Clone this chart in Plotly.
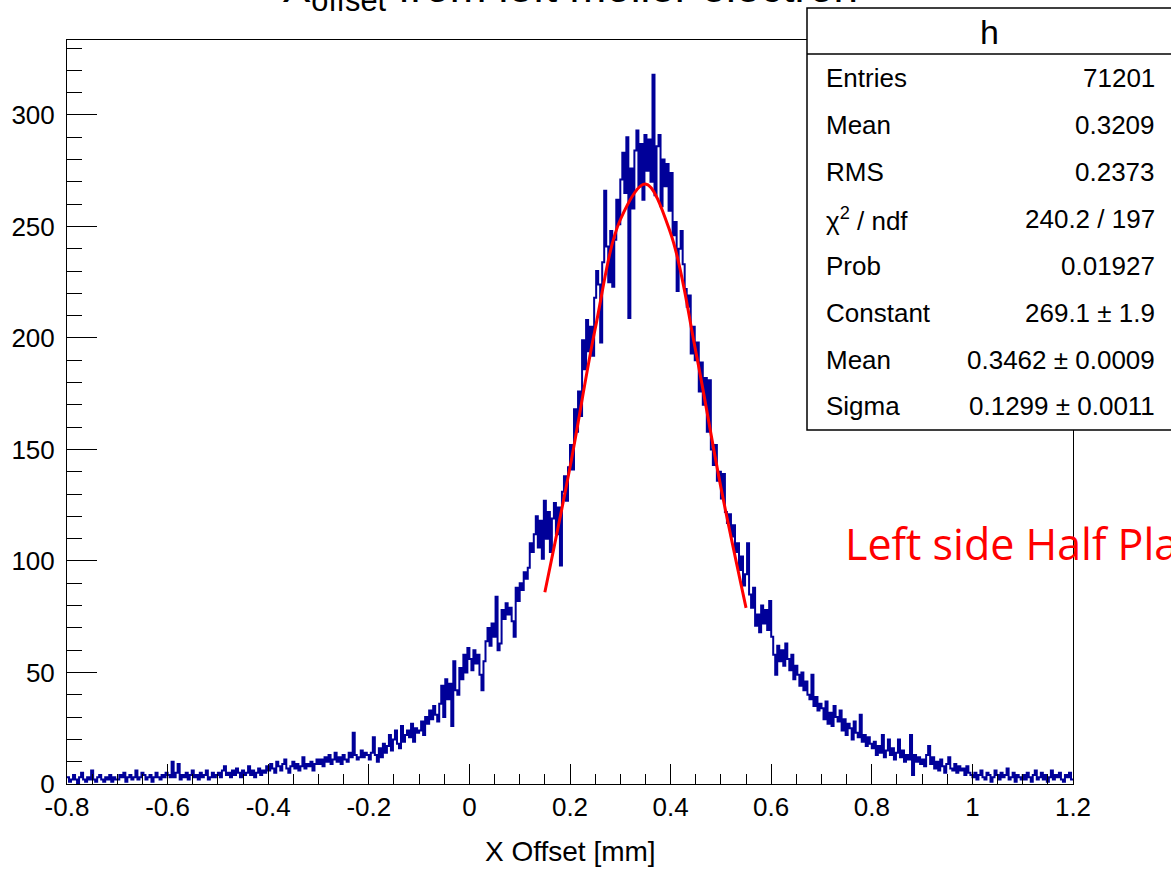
import numpy as np
import plotly.graph_objects as go

# ---------------- data ----------------
XMIN, XMAX, NBINS = -0.8, 1.2, 500

left_tail = [  # -0.8 .. -0.2
    3,1,2,4,2, 0,3,5,2,1, 3,2,6,2,1, 3,4,2,1,3, 2,4,1,3,2,
    2,4,3,5,1, 3,4,2,3,6, 2,3,5,4,2, 3,4,1,3,5, 3,2,4,3,5,
    4,3,10,3,5, 9,2,4,3,5, 2,4,6,3,4, 2,5,3,4,6, 2,3,5,3,4,
    5,3,6,8,4, 5,3,6,4,7, 5,3,6,4,5, 8,4,6,3,5, 7,4,6,5,8,
    6,9,7,5,10, 8,6,9,11,7, 5,8,10,7,9, 6,8,12,7,9, 8,10,6,9,11,
    9,11,8,12,10, 13,9,11,14,10, 12,9,13,11,10, 14,12,23,13,11, 12,15,12,14,13,
]
rise = [  # -0.2 .. 0.2
    11,14,21,13,10, 16,12,18,14,17, 22,15,20,24,18, 16,26,19,22,24, 21,27,19,25,23,
    24,28,22,30,27, 33,29,35,31,28, 36,44,30,47,38, 45,26,55,42,40, 52,47,58,50,61,
    56,51,60,54,58, 49,42,55,64,70, 62,72,66,84,60, 63,78,74,81,76, 79,73,66,88,82,
    90,87,95,92,97, 108,104,112,120,106, 118,101,127,110,122, 104,119,126,112,124, 98,131,138,127,142,
]
peak = [  # 0.2 .. 0.5
    152,141,168,158,176, 165,199,186,208,194, 205,192,218,230,224, 198,234,266,241,225, 248,223,244,262,251,
    271,283,265,290,209, 276,258,284,293,268, 287,262,291,275,289, 270,318,264,286,291, 259,280,268,278,257,
    274,246,252,221,240, 248,233,222,214,219, 193,205,190,198,176, 189,170,182,158,181, 150,143,152,136,140,
]
fall = [  # 0.5 .. 0.8
    128,139,122,117,121, 111,116,104,108,96, 102,89,94,108,85, 79,88,71,76,68, 80,72,78,69,82,
    66,58,49,62,55, 60,53,63,56,51, 58,47,53,49,44, 50,42,46,40,38, 49,35,39,33,36,
    34,29,37,27,32, 26,35,30,28,33, 24,29,22,27,25, 20,28,23,21,31, 19,22,17,21,18,
]
right_tail = [  # 0.8 .. 1.2
    16,19,13,17,14, 22,12,15,20,13, 16,11,14,20,12, 15,10,13,11,22, 4,13,10,12,9,
    11,8,13,17,9, 12,7,10,6,11, 8,5,9,12,7, 6,9,5,8,6, 7,4,8,5,4,
    3,5,2,4,6, 3,2,5,4,1, 3,6,4,2,5, 3,4,7,2,3, 5,1,4,3,2,
    4,2,5,3,1, 4,6,2,3,5, 2,4,1,3,6, 2,4,3,5,2, 1,4,3,5,2,
]

# fit curve points
fit_x = [0.15, 0.20, 0.25, 0.30, 0.35, 0.40, 0.45, 0.50, 0.55]
fit_y = [86, 142, 204, 253, 269, 247, 194, 133, 79]

x_tickvals = [-0.8, -0.6, -0.4, -0.2, 0, 0.2, 0.4, 0.6, 0.8, 1.0, 1.2]
x_ticktext = ["-0.8", "-0.6", "-0.4", "-0.2", "0", "0.2", "0.4", "0.6", "0.8", "1", "1.2"]
y_tickvals = [0, 50, 100, 150, 200, 250, 300]
y_ticktext = ["0", "50", "100", "150", "200", "250", "300"]

stats_title = "h"
stats_labels = ["Entries", "Mean", "RMS", "χ<sup>2</sup> / ndf", "Prob", "Constant", "Mean", "Sigma"]
stats_values = ["71201", "0.3209", "0.2373", "240.2 / 197", "0.01927",
                "269.1 ± 1.9", "0.3462 ± 0.0009", "0.1299 ± 0.0011"]

title_text = "X<sub>offset</sub> from left moller electron"
xaxis_title = "X Offset [mm]"
note_text = "Left side Half Plane"

# ---------------- figure ----------------
counts = left_tail + rise + peak + fall + right_tail
edges = np.linspace(XMIN, XMAX, NBINS + 1)
hist_y = counts + [counts[-1]]

W, H = 1171, 870
L, R, T, B = 67, 98, 40, 86
PW, PH = W - L - R, H - T - B

def px(xp):
    return (xp - L) / PW

def py(yp):
    return (H - B - yp) / PH

FONT = "Liberation Sans, Arial, Helvetica, sans-serif"

fig = go.Figure()
fig.add_trace(go.Scatter(x=edges, y=hist_y, mode="lines", line_shape="hv",
                         line=dict(color="#000099", width=2), hoverinfo="skip",
                         showlegend=False))
fig.add_trace(go.Scatter(x=fit_x, y=fit_y, mode="lines", line_shape="spline",
                         line=dict(color="#ff0000", width=3), hoverinfo="skip",
                         showlegend=False))

fig.update_layout(
    width=W, height=H, autosize=False,
    margin=dict(l=L, r=R, t=T, b=B, pad=0),
    paper_bgcolor="white", plot_bgcolor="white",
    font=dict(family=FONT, color="black"),
    showlegend=False,
)
fig.update_xaxes(
    range=[XMIN, XMAX], showgrid=False, zeroline=False,
    showline=True, mirror=True, linecolor="black", linewidth=1,
    tickmode="array", tickvals=x_tickvals, ticktext=x_ticktext,
    ticks="inside", ticklen=20, tickwidth=1, tickcolor="black",
    tickfont=dict(size=26, family=FONT, color="black"),
    ticklabelstandoff=0,
    minor=dict(tickmode="linear", tick0=-0.8, dtick=0.05, ticks="inside",
               ticklen=10, tickwidth=1, tickcolor="black", showgrid=False),
)
fig.update_yaxes(
    range=[0, 333.6], showgrid=False, zeroline=False,
    showline=True, mirror=True, linecolor="black", linewidth=1,
    tickmode="array", tickvals=y_tickvals, ticktext=y_ticktext,
    ticks="inside", ticklen=30, tickwidth=1, tickcolor="black",
    tickfont=dict(size=26, family=FONT, color="black"),
    ticklabelstandoff=6,
    minor=dict(tickmode="linear", tick0=0, dtick=10, ticks="inside",
               ticklen=15, tickwidth=1, tickcolor="black", showgrid=False),
)

shapes = []
# stats box
shapes.append(dict(type="rect", xref="paper", yref="paper",
                   x0=px(807), x1=px(1172), y0=py(430), y1=py(8),
                   fillcolor="white", line=dict(color="black", width=1.5), layer="above"))
shapes.append(dict(type="line", xref="paper", yref="paper",
                   x0=px(807), x1=px(1172), y0=py(54), y1=py(54),
                   line=dict(color="black", width=1.5), layer="above"))
fig.update_layout(shapes=shapes)

ann = []
ann.append(dict(text=title_text, xref="paper", yref="paper", x=px(570), y=py(-10),
                xanchor="center", yanchor="middle", showarrow=False,
                font=dict(size=44, family=FONT, color="black")))
ann.append(dict(text=xaxis_title, xref="paper", yref="paper", x=px(570), y=py(852),
                xanchor="center", yanchor="middle", showarrow=False,
                font=dict(size=28, family=FONT, color="black")))
ann.append(dict(text=stats_title, xref="paper", yref="paper", x=px(989), y=py(32),
                xanchor="center", yanchor="middle", showarrow=False,
                font=dict(size=34, family=FONT, color="black")))
rows_y = [78, 125, 172, 219, 266, 313, 360, 406]
for lab, val, yy in zip(stats_labels, stats_values, rows_y):
    ann.append(dict(text=lab, xref="paper", yref="paper", x=px(824), y=py(yy),
                    xanchor="left", yanchor="middle", showarrow=False,
                    font=dict(size=26, family=FONT, color="black")))
    ann.append(dict(text=val, xref="paper", yref="paper", x=px(1157), y=py(yy),
                    xanchor="right", yanchor="middle", showarrow=False,
                    font=dict(size=26, family=FONT, color="black")))
ann.append(dict(text=note_text, xref="paper", yref="paper", x=px(843), y=py(543),
                xanchor="left", yanchor="middle", showarrow=False,
                font=dict(size=43, family="Open Sans", color="#ff0000")))
fig.update_layout(annotations=ann)

fig.write_html("out.html")
